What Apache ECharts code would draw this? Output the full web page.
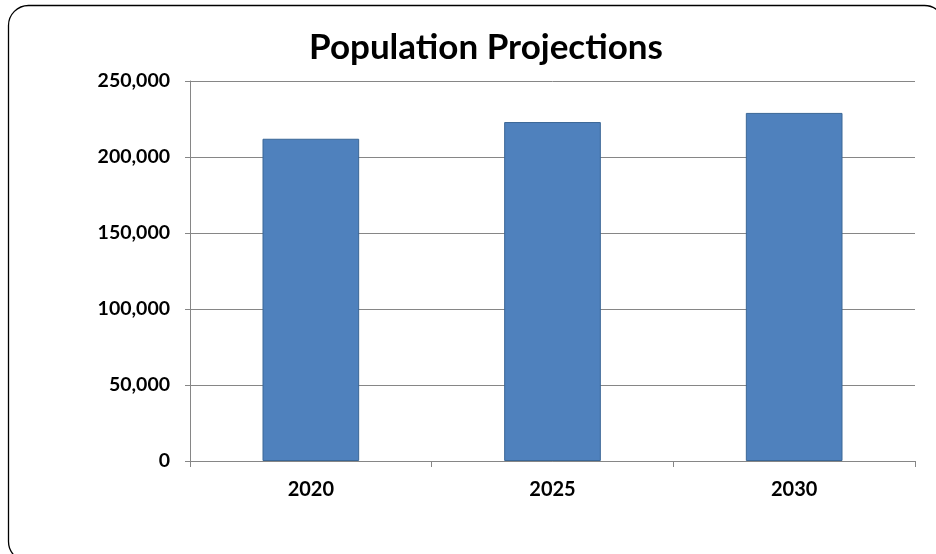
<!DOCTYPE html>
<html>
<head>
<meta charset="utf-8">
<script src="https://cdn.jsdelivr.net/npm/echarts@6/dist/echarts.min.js"></script>
<style>
html,body{margin:0;padding:0;background:#fff;}
#chart{width:936px;height:554px;}
</style>
</head>
<body>
<div id="chart"></div>
<script>
const title = "Population Projections";
const categories = ["2020", "2025", "2030"];
const population = [212000, 223000, 229000];
const yMin = 0, yMax = 250000, yStep = 50000;

const chart = echarts.init(document.getElementById('chart'), null, {renderer: 'canvas'});
const FONT = 'Lato, "Liberation Sans", sans-serif';
chart.setOption({
  animation: false,
  backgroundColor: '#fff',
  title: {
    text: title,
    left: 481, top: 25, textAlign: 'center',
    textStyle: {fontFamily: FONT, fontWeight: 'bold', fontSize: 35, color: '#000'}
  },
  graphic: [{
    type: 'rect',
    shape: {x: 8.5, y: 5.5, width: 936, height: 556, r: 20},
    style: {fill: 'none', stroke: '#000', lineWidth: 1.3},
    silent: true, z: -1
  }],
  grid: {left: 190, right: 21, top: 81, bottom: 93, containLabel: false},
  xAxis: {
    type: 'category',
    data: categories,
    axisLine: {lineStyle: {color: '#868686', width: 1}},
    axisTick: {show: true, length: 6, lineStyle: {color: '#868686'}},
    axisLabel: {margin: 19, fontFamily: FONT, fontWeight: 'bold', fontSize: 20, color: '#000'}
  },
  yAxis: {
    type: 'value',
    min: yMin, max: yMax, interval: yStep,
    axisLine: {show: true, lineStyle: {color: '#868686', width: 1}},
    axisTick: {show: true, length: 5, lineStyle: {color: '#868686'}},
    splitLine: {lineStyle: {color: '#868686', width: 1}},
    axisLabel: {
      margin: 20, fontFamily: FONT, fontWeight: 'bold', fontSize: 19.5, color: '#000',
      formatter: v => v.toLocaleString('en-US')
    }
  },
  series: [{
    type: 'bar',
    data: population,
    barWidth: '40%',
    itemStyle: {color: '#4F81BD', borderColor: '#3B6796', borderWidth: 1}
  }]
});
</script>
</body>
</html>
